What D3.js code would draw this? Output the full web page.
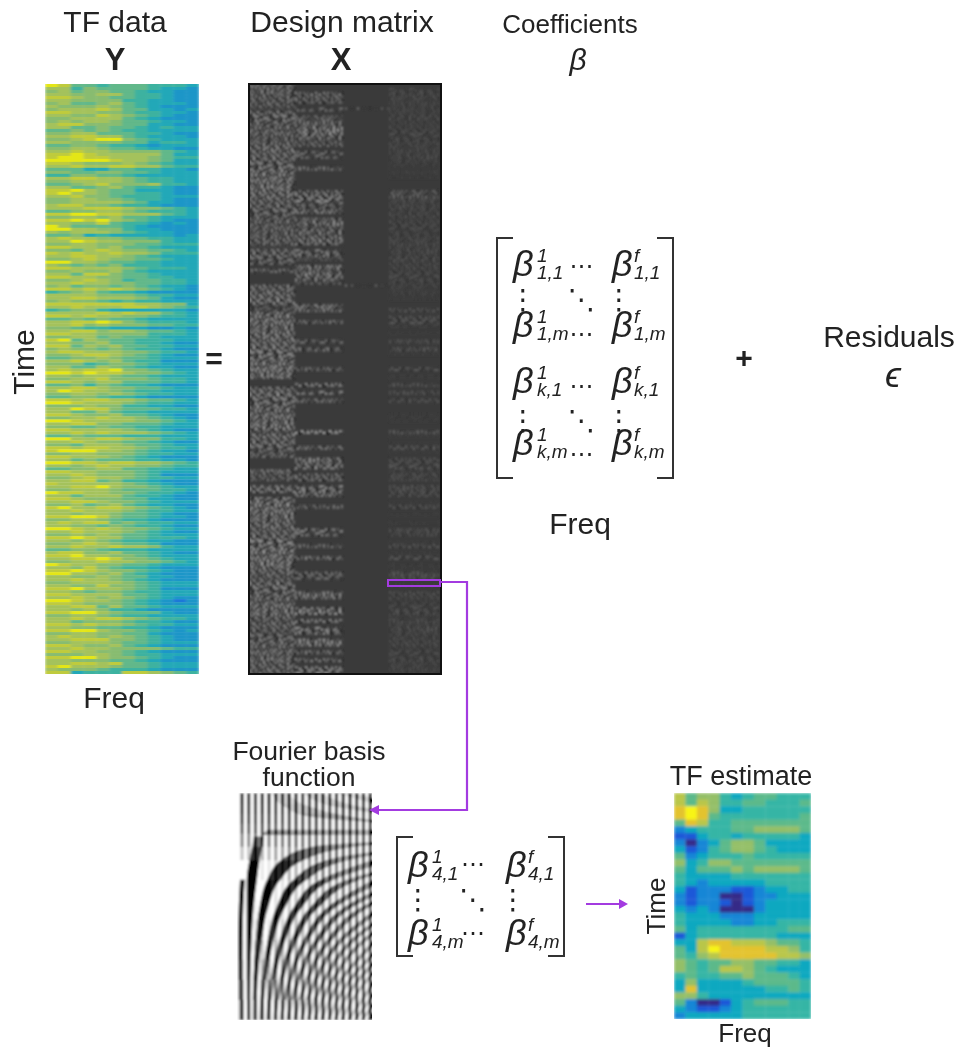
<!DOCTYPE html>
<html lang="en">
<head>
<meta charset="utf-8">
<title>TF design matrix</title>
<script src="https://d3js.org/d3.v7.min.js"></script>
<style>
html,body {margin:0; padding:0; background:#fff;}
svg {display:block;}
text {font-family:"Liberation Sans",Arial,sans-serif; fill:#222;}
</style>
</head>
<body>
<script>
// colour steps, 0-9, as they appear in the two heatmaps
const estimateSteps = ['#352a87','#1a58d8','#1286d6','#10a8c0','#35b5a5','#5cb98a','#94bf68','#b9c648','#e3c32f','#f8f415']
const dataSteps = ['#2a66d8','#1a78d8','#1c96c8','#22a8b8','#3eb2a0','#62b88a','#88bc70','#a4c25c','#bfcb3c','#e4e618']

// TF data Y: one string per time row, one digit per frequency column
const tfData = [
'985545554443','774655554332','675665543322','776677544322','887665544322','776666443322','675567543332','766676543222',
'677787553323','887766544332','776687654322','667777543222','676776554332','788666553322','775565543433','556565443333',
'667755544322','778877543332','667899654333','776666553443','556654432333','667765543322',
'778776666543','889877777533','899887776544','999998776533','887666765433','778778877544','555335544332','665566554333',
'446655433333','778877654433','667777654433','556786667443','775567544322','889765533322','897765544322','778665444333',
'667766544322','667777653322','788665443222','777888766543','556677654443','889988777543','667767554333','889897654322',
'776685443232','975555432222','997766433222','767776543322','556343333323','787766554433','779877666433','667766655444',
'887767554333','665787665543','878778776444','778877654333','667876655433','997765544333','765656444333','887777654443',
'667667543333','775886554333','887766554433','667876455443',
'778776655443','675665654332','887878765432','456754432222','777766654433','778877765322','676654544333','888888877663',
'778777887654','456643333332','777787877543','887877665443','556565543333','778898654443','778676665544','665443332232',
'778867765543','887766664443','667756554333','895765544433','776675544322','885767554433','676656544322','788777665443',
'667887654322','556676554333','778767544222','666456654333','775576543322','787889665433','998988766543','776776554333',
'667786665443','887677555443','556465443222','778876655433','798776544333','667767654433','556654432222','887887765543',
'998777654433','666766443322','779886555443','775575443333','887667554322','667787765432','998777766543','778866555433',
'665565544333','887777654322','778787776543','556555444333','997788766443','778766554322','665777655433','887887765443',
'899977654332','667766654433','887776543222','775655544332','998878877654','776787766544','556677554433','887766654333',
'778766654222','667877654433',
'778856443222','877777654322','778897665433','667776555443','988776654432','775777544322','887666553322','778876654333',
'667567543322','897788765432','778777654433','776776554322','889986554332','667765443222','787885654433','776656544322',
'998787665433','778777654322','667676554333','889877554443','776765443322','667876554222','778778776433','556654443333',
'788667554322','889776654333','778898665433','667787766543','987766554333','776865443222','889876654322','997767543222',
'776676553322','778776543222','667777654333','776686654333','889777654222','776566544333','887777554333','778767654322',
'998776543212','887666543222','778857554333','776764432222','889976555322','667765443333','778788765443','775666544322',
'887877654433','776655443222','889976654323','667766553222','787767654322','778886654322','667776554333','887667543222',
'778776666544','887766543222','666776544333','889976654322','776665543222','778878554333','897776554333','766654443222','883444887654'
]

// TF estimate: one string per time row
const tfEstimate = [
'756643455444','757644554445','898633444444','898544444445','587445555555','234445566665','113443444443',
'202356653333','312456654333','523444544444','634665555555','535556566665','433334444444','432333334444',
'312221123344','212200122333','212210123333','323200023333','433322233333','433332233444','534444444455',
'134444444333','337887776554','537988887764','546788888776','654556655443','654577654333','454455655543',
'363333455554','383333334454','664333333333','520013455544','321123444444','233333444444'
]

// design matrix: how strong each of the four regressor blocks is, per 4px strip of rows
const designRows = [
'6000','6003','6604','6604','6503','6003','3553','7003','7504','7603','6603','6803','6804','5603','5403','6503',
'7003','7503','7504','7003','7002','8601','8002','8001','8000','7000','8000','7607','7707','6704','6503','6404',
'6703','6004','6603','6804','6504','6703','6603','6804','6704','2003','6604','6603','5304','5003','0704','6503',
'0804','0704','0403','7053','7002','8002','8001','8000','3700','4605','7001','7005','7505','7002','7000','8001',
'8000','8505','8001','8606','8001','8000','7000','8000','8505','7000','7001','0000','0705','7000','8705','8000',
'7605','8000','8000','7000','8001','7001','8000','8000','4906','7001','6000','7001','6606','5001','6000','0805',
'0705','0806','7002','5605','5604','0000','7705','7705','0604','7000','8001','8505','8000','8001','8000','7001',
'8000','7705','7604','7000','8001','7505','8000','7001','7605','8000','8001','7001','7606','6505','7000','8001',
'7000','7705','7704','6002','7003','7704','7804','6002','5704','7003','6805','5704','6003','7804','7805','6002',
'7604','6003','7604','6003','6703','6702'
]
const blockGain = [.72,.72,.7,.4]

// tile of cell contrast inside the design matrix: 4 is the grey background
const designTexture = [
'847291648372946182749361','295817394628173950284716','738462915073846291573840','162940738516294073851629',
'594738162940518273649058','307185926473081926354817','846293170584627391058462','419058367214950382761495',
'873624915087362491508736','250918473625091847362509','691475038269147503826914','438260951743826095174382',
'925174386092517438609251','170863529417086352941708','586349201758634920175863','342910785634291078563429',
'798205463179820546317982','061538972406153897240615','875146209387514620938751','214790356821479035682147',
'639082147563908214756390','480751693248075169324807','917326058491732605849173','253684917025368491702536'
]

// Fourier panel: dark bands, column position of each band at the row levels below
const fourierRows = [68,56,44,34,26,20,16,13]
const fourierBands = [
[1,1,1,1.2,1.6],
[3.4,3.4,3.6,3.9,4.4,5.2,6,6.5],
[5,5.5,6.5,8,10.9,16.6,29.2,90],
[7,8.1,10,13.1,18.7,30.2,55.4],
[9,10.6,13.5,18.2,26.6,43.8],
[11,13.2,17,23.2,34.5,57.4],
[13,15.7,20.5,28.3,42.4],
[15,18.2,23.9,33.3,50.2],
[17,20.8,27.4,38.4,58.1],
[19,23.3,30.9,43.4],
[21,25.9,34.4,48.5],
[23,28.4,37.9,53.5],
[25,30.9,41.4],
[27,33.5,44.9],
[29,36,48.4],
[31,38.6,51.9],
[33,41.1],
[35,43.6],
[37,46.2],
[39,48.7],
[41,51.2]
]
// the same bands above the focal row, and the flat one through it
const fourierTopRows = [0,4,7,9]
const fourierTopBands = [
[12.6,17.6,27,44.7],
[22.2,32.2,51],
[31.8,46.8],
[41.4,60]
]
const fourierFocalBand = [{y:11,x0:9,x1:44},{y:12.6,x0:7,x1:44}]
// how much the columns show through as vertical stripes, per row band and column band
const stripeRowBands = [0,3,6,9,12,16,20,26,32,38,44,50,56,62,68]
const stripeColBands = [0,5,10,15,20,25,30,35,40]
const stripeStrength = [
[1,1,1,1,1,1,1,1],
[.95,.95,.95,.95,.95,.95,.95,.95],
[.85,.85,.85,.85,.85,.85,.85,.85],
[.7,.75,.75,.8,.8,.8,.8,.85],
[.5,.55,.6,.65,.7,.75,.8,.8],
[.25,.3,.4,.5,.6,.7,.75,.8],
[0,.1,.2,.35,.5,.6,.7,.75],
[0,0,.12,.25,.35,.45,.6,.7],
[0,.05,.12,.25,.35,.45,.55,.65],
[0,.1,.2,.3,.4,.5,.6,.7],
[.05,.2,.3,.4,.5,.55,.65,.75],
[.2,.3,.4,.5,.6,.65,.7,.8],
[.5,.55,.6,.65,.7,.75,.8,.85],
[.85,.85,.9,.9,.9,.9,.9,.9]
]

const superLabels = ['1','f']
const matrixLabels = ['1,1','1,m','k,1','k,m']
const matrix2Labels = ['4,1','4,m']

const width = 962, height = 1049
const svg = d3.select('body').append('svg').attr('width',width).attr('height',height)
const defs = svg.append('defs')
;[['blurY','1.6 .6'],['blurX','.8'],['blurF','1.2'],['blurE','1.6'],['blurT','.35']].forEach(function(d){
  defs.append('filter').attr('id',d[0]).attr('x','-5%').attr('y','-5%').attr('width','110%').attr('height','110%')
    .append('feGaussianBlur').attr('stdDeviation',d[1])
})

function clipped(id,x,y,w,h) {
  defs.append('clipPath').attr('id',id).append('rect').attr('x',x).attr('y',y).attr('width',w).attr('height',h)
  return svg.append('g').attr('clip-path','url(#'+id+')')
}

function heatmap(rows,steps,x0,x1,y0,y1,id,blur) {
  const colour = d3.scaleLinear().domain(d3.range(10)).range(steps)
  const xs = d3.scaleBand().domain(d3.range(rows[0].length)).range([x0,x1])
  const ys = d3.scaleBand().domain(d3.range(rows.length)).range([y0,y1])
  const cells = rows.flatMap(function(r,i){return r.split('').map(function(c,j){return {i:i,j:j,v:+c}})})
  clipped(id,x0,y0,x1-x0,y1-y0).append('g').attr('filter','url(#'+blur+')')
    .selectAll('rect').data(cells).join('rect')
    .attr('x',function(d){return xs(d.j)}).attr('y',function(d){return ys(d.i)})
    .attr('width',xs.bandwidth()+.3).attr('height',ys.bandwidth()+.3)
    .attr('fill',function(d){return colour(d.v)})
}

heatmap(tfData,dataSteps,45,199,84,674,'clipY','blurY')
heatmap(tfEstimate,estimateSteps,674,811,793,1019,'clipE','blurE')

// design matrix
function drawDesign() {
  const grey = d3.scaleLinear().domain([0,4,9]).range(['#0c0c0c','#3a3a3a','#e8e8e8'])
  const blocks = [[0,23],[23,47],[47,70],[70,95]]
  const xs = d3.scaleBand().domain(d3.range(96)).range([249,441])
  const ys = d3.scaleBand().domain(d3.range(designRows.length*2)).range([84,674])
  const cells = []
  designRows.forEach(function(r,i){
    r.split('').forEach(function(a,b){
      if (+a==0) return
      for (let k=0;k<2;k++) for (let c=blocks[b][0];c<blocks[b][1];c++) {
        const row = (i*2+k+b*5)%designTexture.length
        const t = +designTexture[row][(c+i*7)%24]
        if (b==2 && (c%3!=0 || k==1)) continue
        cells.push({r:i*2+k,c:c,v:4+(t-4)*(+a)/9*blockGain[b]})
      }
    })
  })
  svg.append('rect').attr('x',249).attr('y',84).attr('width',192).attr('height',590).attr('fill','#3a3a3a')
  clipped('clipX',249,84,192,590).append('g').attr('filter','url(#blurX)')
    .selectAll('rect').data(cells).join('rect')
    .attr('x',function(d){return xs(d.c)}).attr('y',function(d){return ys(d.r)})
    .attr('width',xs.bandwidth()).attr('height',ys.bandwidth())
    .attr('fill',function(d){return grey(d.v)})
  svg.append('rect').attr('x',249).attr('y',84).attr('width',192).attr('height',590)
    .attr('fill','none').attr('stroke','#111').attr('stroke-width',2)
}
drawDesign()

// Fourier panel
function drawFourier() {
  const xs = d3.scaleLinear().domain([0,40]).range([237,372])
  const ys = d3.scaleLinear().domain([0,68]).range([793,1020])
  const g = clipped('clipF',237,793,135,227).append('g').attr('filter','url(#blurF)')
  g.append('rect').attr('x',230).attr('y',785).attr('width',150).attr('height',245).attr('fill','#fff')
  // each dark band fills half the gap to its neighbour, the two left ones stay narrow
  function bandAreas(bands,rows,narrow) {
    return bands.map(function(b,n){
      const next = bands[n+1]||[]
      const pts = b.map(function(c,i){
        let gap = (next[i]!==undefined?next[i]:c+6)-c
        if (n<narrow) gap = Math.min(gap,6)
        return {y:rows[i],x0:c-gap*.25,x1:c+gap*.25}
      })
      return pts.sort(function(p,q){return p.y-q.y})
    })
  }
  const area = d3.area().y(function(d){return ys(d.y)})
    .x0(function(d){return xs(d.x0)}).x1(function(d){return xs(d.x1)}).curve(d3.curveMonotoneY)
  const allBands = bandAreas(fourierBands,fourierRows,2).concat(bandAreas(fourierTopBands,fourierTopRows,0))
  allBands.push(fourierFocalBand)
  g.selectAll('path.band').data(allBands)
    .join('path').attr('class','band').attr('d',area).attr('fill','#000')
  const stripes = []
  stripeStrength.forEach(function(row,r){
    row.forEach(function(s,b){
      if (!s) return
      for (let c=stripeColBands[b];c<stripeColBands[b+1];c++) stripes.push({c:c,r:r,s:s})
    })
  })
  g.selectAll('rect.stripe').data(stripes).join('rect').attr('class','stripe')
    .attr('x',function(d){return xs(d.c)}).attr('width',xs(1)-xs(0))
    .attr('y',function(d){return ys(stripeRowBands[d.r])})
    .attr('height',function(d){return ys(stripeRowBands[d.r+1])-ys(stripeRowBands[d.r])+.3})
    .attr('fill',function(d){return d.c%2?'#000':'#fff'})
    .attr('opacity',function(d){return d.s*.9})
}
drawFourier()

function label(s,x,y,size,opts) {
  opts = opts||{}
  return svg.append('text').attr('x',x).attr('y',y).attr('font-size',size)
    .attr('text-anchor',opts.anchor||'middle').attr('font-weight',opts.weight||null)
    .attr('font-style',opts.style||null).attr('transform',opts.rotate?'rotate(-90 '+x+' '+y+')':null)
    .attr('filter','url(#blurT)').text(s)
}

label('TF data',115,32,30)
label('Y',115,70,31,{weight:'bold'})
label('Design matrix',342,32,30)
label('X',341,70,31,{weight:'bold'})
label('Coefficients',570,33,26)
label('\u03b2',578,70,30,{style:'italic'})
label('Time',34,362,30,{rotate:true})
label('=',214,369,30,{weight:'bold'})
label('Freq',114,708,30)
label('Freq',580,534,30)
label('+',744,368,30,{weight:'bold'})
label('Residuals',889,347,30)
label('\u03f5',893,387,36,{style:'italic'})
label('Fourier basis',309,760,26.5)
label('function',309,786,26.5)
label('TF estimate',741,785,27)
label('Time',665,906,26,{rotate:true})
label('Freq',745,1042,26)

// coefficient matrices
function betaMatrix(top,bottom,bLeft,bRight,colX,rowY,labels,hdotOff,dotY,dx) {
  const tick = 16
  ;[[bLeft,tick],[bRight,-tick]].forEach(function(b){
    svg.append('path').attr('d','M'+(b[0]+b[1])+','+top+'H'+b[0]+'V'+bottom+'H'+(b[0]+b[1]))
      .attr('fill','none').attr('stroke','#333').attr('stroke-width',2).attr('filter','url(#blurT)')
  })
  const mid = (colX[0]+colX[1])/2+dx
  labels.forEach(function(lab,i){
    colX.forEach(function(x,j){
      label('\u03b2',x,rowY[i],36,{anchor:'start',style:'italic'})
      label(superLabels[j],x+(j?22:24),rowY[i]-14,19,{anchor:'start',style:'italic'})
      label(lab,x+(j?22:24),rowY[i]+3,19,{anchor:'start',style:'italic'})
    })
    label('\u22ef',mid,rowY[i]+hdotOff[i],24).style('font-family','DejaVu Sans')
  })
  dotY.forEach(function(y){
    label('\u22ee',colX[0]+10,y,28).style('font-family','DejaVu Sans')
    label('\u22f1',mid,y,28).style('font-family','DejaVu Sans')
    label('\u22ee',colX[1]+7,y,28).style('font-family','DejaVu Sans')
  })
}
betaMatrix(238,478,497,673,[513,612],[276,337,393,455],matrixLabels,[-2.4,4.6,.6,6.6],[309,430],19)
betaMatrix(837,956,397,564,[408,506],[877,945],matrix2Labels,[-5.4,-4.4],[909],16)

// purple call-outs
const purple = '#a33be0'
const arrowLine = d3.line()
svg.append('rect').attr('x',388).attr('y',580).attr('width',52).attr('height',6).attr('fill','none').attr('stroke',purple).attr('stroke-width',2)
svg.append('path').attr('d',arrowLine([[440,582],[467,582],[467,810],[378,810]])).attr('fill','none').attr('stroke',purple).attr('stroke-width',2.2)
svg.append('path').attr('d',arrowLine([[369,810],[379,805],[379,815]])+'Z').attr('fill',purple)
svg.append('path').attr('d',arrowLine([[586,904],[620,904]])).attr('fill','none').attr('stroke',purple).attr('stroke-width',2.2)
svg.append('path').attr('d',arrowLine([[628,904],[619,899],[619,909]])+'Z').attr('fill',purple)
</script>
</body>
</html>
